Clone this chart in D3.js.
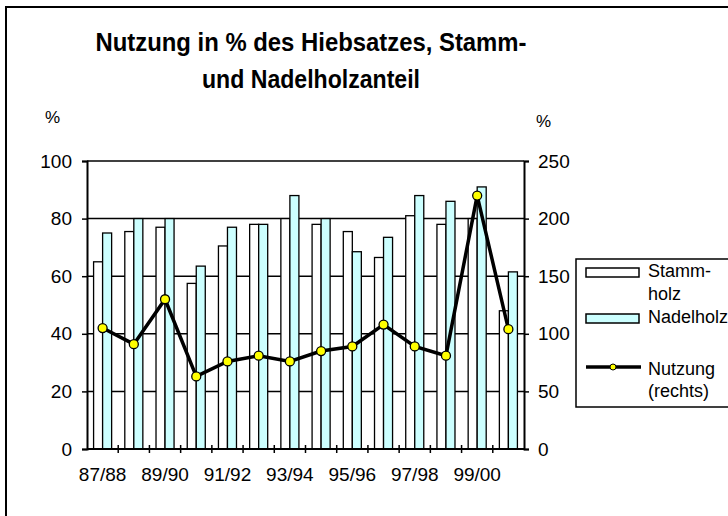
<!DOCTYPE html>
<html>
<head>
<meta charset="utf-8">
<script src="https://cdn.jsdelivr.net/npm/d3@7"></script>
<style>
  body { margin: 0; background: #fff; }
  svg { display: block; font-family: "Liberation Sans", Arial, sans-serif; }
</style>
</head>
<body>
<div id="chart"></div>
<script>
// data
var periods = ["87/88", "88/89", "89/90", "90/91", "91/92", "92/93", "93/94",
               "94/95", "95/96", "96/97", "97/98", "98/99", "99/00", "00/01"];
var tickLabels = ["87/88", "89/90", "91/92", "93/94", "95/96", "97/98", "99/00"];
var stammholz = [65, 75.5, 77, 57.5, 70.5, 78, 80, 78, 75.5, 66.5, 81, 78, 80, 48];
var nadelholz = [75, 80, 80, 63.5, 77, 78, 88, 80, 68.5, 73.5, 88, 86, 91, 61.5];
var nutzung = [105, 91, 130, 63, 76, 81, 76, 85, 89, 108, 89, 81, 220, 104];
var seriesNames = ["Stammholz", "Nadelholz"];
var leftTicks = [0, 20, 40, 60, 80, 100];
var rightTicks = [0, 50, 100, 150, 200, 250];

var W = 728, H = 516;
var plot = { left: 87, right: 524, top: 161, bottom: 449 };

var svg = d3.select("#chart").append("svg")
    .attr("width", W).attr("height", H);

// outer chart frame (runs off the right and bottom)
svg.append("rect")
    .attr("x", 6).attr("y", 7)
    .attr("width", 760).attr("height", 530)
    .attr("fill", "none").attr("stroke", "#000").attr("stroke-width", 2);

svg.selectAll("text.title")
    .data([["Nutzung in % des Hiebsatzes, Stamm-", 431], ["und Nadelholzanteil", 218]])
    .enter().append("text")
    .attr("class", "title")
    .attr("x", 311)
    .attr("y", function (d, i) { return 51 + i * 37; })
    .attr("text-anchor", "middle")
    .attr("textLength", function (d) { return d[1]; })
    .attr("lengthAdjust", "spacingAndGlyphs")
    .style("font-size", "25px").style("font-weight", "bold")
    .text(function (d) { return d[0]; });

var x = d3.scaleBand().domain(periods).range([plot.left, plot.right]).padding(0);
var xs = d3.scaleBand().domain(seriesNames).range([0, x.bandwidth()]).paddingOuter(0.73).paddingInner(0);
var y = d3.scaleLinear().domain([0, 100]).range([plot.bottom, plot.top]);
var y2 = d3.scaleLinear().domain([0, 250]).range([plot.bottom, plot.top]);

// gridlines
svg.append("g").selectAll("line")
    .data(leftTicks.filter(function (d) { return d > 0; }))
    .enter().append("line")
    .attr("x1", plot.left).attr("x2", plot.right)
    .attr("y1", function (d) { return y(d); }).attr("y2", function (d) { return y(d); })
    .attr("stroke", "#000").attr("stroke-width", 1.5);

// bars
var rows = periods.map(function (p, i) {
  return { period: p, values: [
    { key: "Stammholz", value: stammholz[i] },
    { key: "Nadelholz", value: nadelholz[i] }] };
});
var colors = { Stammholz: "#ffffff", Nadelholz: "#ccffff" };

svg.append("g").selectAll("g")
    .data(rows).enter().append("g")
    .attr("transform", function (d) { return "translate(" + x(d.period) + ",0)"; })
    .selectAll("rect")
    .data(function (d) { return d.values; })
    .enter().append("rect")
    .attr("x", function (d) { return xs(d.key); })
    .attr("width", xs.bandwidth())
    .attr("y", function (d) { return y(d.value); })
    .attr("height", function (d) { return y(0) - y(d.value); })
    .attr("fill", function (d) { return colors[d.key]; })
    .attr("stroke", "#000").attr("stroke-width", 1.3);

// axes
var leftAxis = d3.axisLeft(y).tickValues(leftTicks).tickSize(5).tickPadding(10);
var rightAxis = d3.axisRight(y2).tickValues(rightTicks).tickSize(5).tickPadding(9);

var gl = svg.append("g").attr("transform", "translate(" + plot.left + ",0)").call(leftAxis);
var gr = svg.append("g").attr("transform", "translate(" + plot.right + ",0)").call(rightAxis);
[gl, gr].forEach(function (g) {
  g.select(".domain").attr("stroke-width", 2);
  g.selectAll(".tick line").attr("stroke-width", 1.5);
  g.selectAll("text").style("font-size", "19px").attr("fill", "#000");
});

// category axis with ticks at band edges
svg.append("line")
    .attr("x1", plot.left).attr("x2", plot.right)
    .attr("y1", plot.bottom).attr("y2", plot.bottom)
    .attr("stroke", "#000").attr("stroke-width", 2);
svg.append("g").selectAll("line")
    .data(periods.slice(1)).enter().append("line")
    .attr("x1", function (d) { return x(d); }).attr("x2", function (d) { return x(d); })
    .attr("y1", plot.bottom - 4).attr("y2", plot.bottom + 4)
    .attr("stroke", "#000").attr("stroke-width", 1.5);
svg.append("g").selectAll("text")
    .data(tickLabels).enter().append("text")
    .attr("x", function (d) { return x(d) + x.bandwidth() / 2; })
    .attr("y", 481)
    .attr("text-anchor", "middle")
    .style("font-size", "19px")
    .text(function (d) { return d; });

// axis unit labels
svg.append("text").attr("x", 45).attr("y", 123).style("font-size", "17px").text("%");
svg.append("text").attr("x", 536).attr("y", 127).style("font-size", "17px").text("%");

// Nutzung line on the right scale
var line = d3.line()
    .x(function (d, i) { return x(periods[i]) + x.bandwidth() / 2; })
    .y(function (d) { return y2(d); });
svg.append("path")
    .datum(nutzung)
    .attr("d", line)
    .attr("fill", "none").attr("stroke", "#000").attr("stroke-width", 3.5)
    .attr("stroke-linejoin", "miter");
svg.append("g").selectAll("circle")
    .data(nutzung).enter().append("circle")
    .attr("cx", function (d, i) { return x(periods[i]) + x.bandwidth() / 2; })
    .attr("cy", function (d) { return y2(d); })
    .attr("r", 4.5)
    .attr("fill", "#ffff00").attr("stroke", "#000").attr("stroke-width", 1.3);

// legend
var lg = svg.append("g").attr("transform", "translate(576,259)");
lg.append("rect").attr("width", 170).attr("height", 148)
    .attr("fill", "#fff").attr("stroke", "#000").attr("stroke-width", 1.5);
lg.append("rect").attr("x", 10).attr("y", 9).attr("width", 53).attr("height", 9)
    .attr("fill", colors.Stammholz).attr("stroke", "#000").attr("stroke-width", 1.5);
lg.append("rect").attr("x", 10).attr("y", 55).attr("width", 53).attr("height", 9)
    .attr("fill", colors.Nadelholz).attr("stroke", "#000").attr("stroke-width", 1.5);
lg.append("line").attr("x1", 10).attr("x2", 65).attr("y1", 108).attr("y2", 108)
    .attr("stroke", "#000").attr("stroke-width", 3.5);
lg.append("circle").attr("cx", 37).attr("cy", 108).attr("r", 3)
    .attr("fill", "#ffff00").attr("stroke", "#000").attr("stroke-width", 1);

var legendText = [["Stamm-", 18], ["holz", 41], ["Nadelholz", 64], ["Nutzung", 116], ["(rechts)", 138]];
lg.selectAll("text.lt").data(legendText).enter().append("text")
    .attr("class", "lt")
    .attr("x", 72).attr("y", function (d) { return d[1]; })
    .style("font-size", "18px")
    .text(function (d) { return d[0]; });
</script>
</body>
</html>
